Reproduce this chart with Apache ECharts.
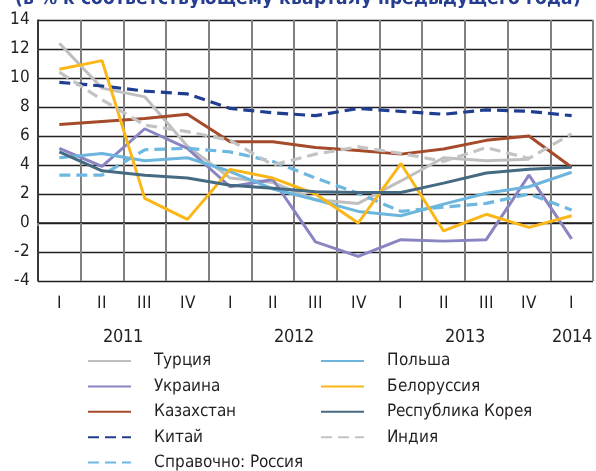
<!DOCTYPE html>
<html>
<head>
<meta charset="utf-8">
<script src="https://cdn.jsdelivr.net/npm/echarts@6/dist/echarts.min.js"></script>
<style>
@font-face {
    font-family: 'Narrow';
    font-weight: normal;
    src: local('Noto Sans ExtraCondensed'), local('NotoSans-ExtraCondensed'),
         local('Liberation Sans Narrow'), local('LiberationSansNarrow-Regular'),
         local('Noto Sans Condensed'), local('NotoSans-Condensed'),
         local('DejaVu Sans Condensed'), local('DejaVuSansCondensed');
}
@font-face {
    font-family: 'Narrow';
    font-weight: bold;
    src: local('Noto Sans ExtraCondensed Bold'), local('NotoSans-ExtraCondensedBold'),
         local('Liberation Sans Narrow Bold'), local('LiberationSansNarrow-Bold'),
         local('Noto Sans Condensed Bold'), local('NotoSans-CondensedBold'),
         local('DejaVu Sans Condensed Bold'), local('DejaVuSansCondensed-Bold');
}
html, body { margin: 0; padding: 0; background: #fff; }
#chart { width: 596px; height: 471px; }
</style>
</head>
<body>
<div id="chart"></div>
<script type="text/javascript">
// кварталы и годы
var quarters = ['I', 'II', 'III', 'IV', 'I', 'II', 'III', 'IV', 'I', 'II', 'III', 'IV', 'I'];
var quarterYears = [2011, 2011, 2011, 2011, 2012, 2012, 2012, 2012, 2013, 2013, 2013, 2013, 2014];
var yTicks = [-4, 14, 2]; // min, max, step

// рост ВВП, % к соответствующему кварталу предыдущего года
var turkey     = [12.4, 9.3, 8.7, 5.3, 3.1, 2.8, 1.6, 1.35, 2.9, 4.5, 4.3, 4.4, null];
var ukraine    = [5.15, 3.9, 6.5, 5.15, 2.5, 3.0, -1.3, -2.3, -1.15, -1.25, -1.15, 3.3, -1.1];
var kazakhstan = [6.8, 7.0, 7.2, 7.5, 5.6, 5.6, 5.2, 5.0, 4.75, 5.1, 5.7, 6.0, 3.85];
var china      = [9.7, 9.45, 9.1, 8.9, 7.9, 7.6, 7.4, 7.9, 7.7, 7.5, 7.8, 7.7, 7.4];
var russia     = [3.3, 3.3, 5.05, 5.15, 4.9, 4.25, 3.1, 2.05, 0.8, 1.1, 1.35, 2.0, 0.9];
var poland     = [4.5, 4.8, 4.3, 4.5, 3.55, 2.35, 1.6, 0.8, 0.5, 1.3, 2.05, 2.5, 3.5];
var belarus    = [10.6, 11.2, 1.7, 0.25, 3.7, 3.1, 2.0, 0.0, 4.1, -0.55, 0.6, -0.3, 0.5];
var korea      = [4.9, 3.6, 3.3, 3.1, 2.6, 2.4, 2.15, 2.1, 2.1, 2.75, 3.45, 3.7, 3.85];
var india      = [10.4, 8.5, 6.75, 6.3, 5.7, 4.0, 4.75, 5.25, 4.8, 4.25, 5.2, 4.45, 6.15];

var FONT = 'Narrow, "Noto Sans", sans-serif';
var INK = '#231f20';

// подписи годов: по центру кварталов каждого года, на оси с шагом в полквартала
var yearSlots = [];
for (var j = 0; j <= quarters.length * 2; j++) yearSlots.push('');
var seen = {};
quarterYears.forEach(function (y, i) {
    if (!seen[y]) seen[y] = [];
    seen[y].push(i);
});
Object.keys(seen).forEach(function (y) {
    var idx = seen[y];
    var mid = (idx[0] + idx[idx.length - 1]) / 2;
    yearSlots[Math.round(mid * 2 + 1)] = y;
});

function line(name, data, color, dashed) {
    return {
        name: name,
        type: 'line',
        data: data,
        symbol: 'none',
        silent: true,
        lineStyle: { color: color, width: dashed ? 3.2 : 3, type: dashed ? [11, 6] : 'solid', cap: 'butt' },
        itemStyle: { color: color }
    };
}

function legendCol(left, names) {
    return {
        orient: 'vertical',
        left: left,
        top: 352.5,
        height: 140,
        padding: 0,
        itemWidth: 43,
        itemHeight: 12,
        itemGap: 8.4,
        selectedMode: false,
        itemStyle: { opacity: 0 },
        textStyle: { fontFamily: FONT, fontSize: 17, color: INK, padding: [0, 0, 0, 18] },
        data: names
    };
}

var option = {
    animation: false,
    backgroundColor: '#fff',
    title: {
        text: '(в % к соответствующему кварталу предыдущего года)',
        left: 'center',
        top: -10.5,
        padding: 0,
        textStyle: { fontFamily: FONT, fontSize: 19, fontWeight: 'bold', color: '#253d8e' }
    },
    legend: [
        legendCol(87, ['Турция', 'Украина', 'Казахстан', 'Китай', 'Справочно: Россия']),
        legendCol(320, ['Польша', 'Белоруссия', 'Республика Корея', 'Индия'])
    ],
    grid: { left: 38, right: -1, top: 20, bottom: 190, containLabel: false },
    xAxis: [{
        type: 'category',
        data: quarters,
        boundaryGap: true,
        axisLine: { lineStyle: { color: INK, width: 1.5 } },
        axisTick: { show: true, length: 3, lineStyle: { color: '#808080', width: 2 } },
        axisLabel: { fontFamily: FONT, fontSize: 17, color: INK, margin: 14, interval: 0 },
        splitLine: { show: true, lineStyle: { color: '#808080', width: 2 } }
    }, {
        type: 'category',
        data: yearSlots,
        boundaryGap: false,
        position: 'bottom',
        offset: 34,
        axisLine: { show: false },
        axisTick: { show: false },
        axisLabel: { fontFamily: FONT, fontSize: 18, color: INK, margin: 13.5, interval: 0 },
        splitLine: { show: false }
    }],
    yAxis: {
        type: 'value',
        min: yTicks[0],
        max: yTicks[1],
        interval: yTicks[2],
        axisLine: { show: true, lineStyle: { color: INK, width: 1.5 } },
        axisTick: { show: false },
        axisLabel: { fontFamily: FONT, fontSize: 17, color: INK, margin: 8 },
        splitLine: { lineStyle: { color: INK, width: 1.3 } }
    },
    series: [
        line('Турция', turkey, '#bfbfbf', false),
        line('Украина', ukraine, '#8985c3', false),
        line('Казахстан', kazakhstan, '#a54a2b', false),
        line('Китай', china, '#203e8f', true),
        line('Справочно: Россия', russia, '#6db8e1', true),
        line('Польша', poland, '#6cb5dd', false),
        line('Белоруссия', belarus, '#fbb617', false),
        line('Республика Корея', korea, '#456a82', false),
        line('Индия', india, '#c3c3c3', true)
    ]
};

var myChart = echarts.init(document.getElementById('chart'), null, { renderer: 'canvas' });
myChart.setOption(option);
// перерисовать, когда локальный узкий шрифт подгрузится
function redraw() { myChart.setOption(option, true); }
Promise.all([document.fonts.load('17px Narrow'), document.fonts.load('bold 19px Narrow')]).then(redraw, redraw);
</script>
</body>
</html>
